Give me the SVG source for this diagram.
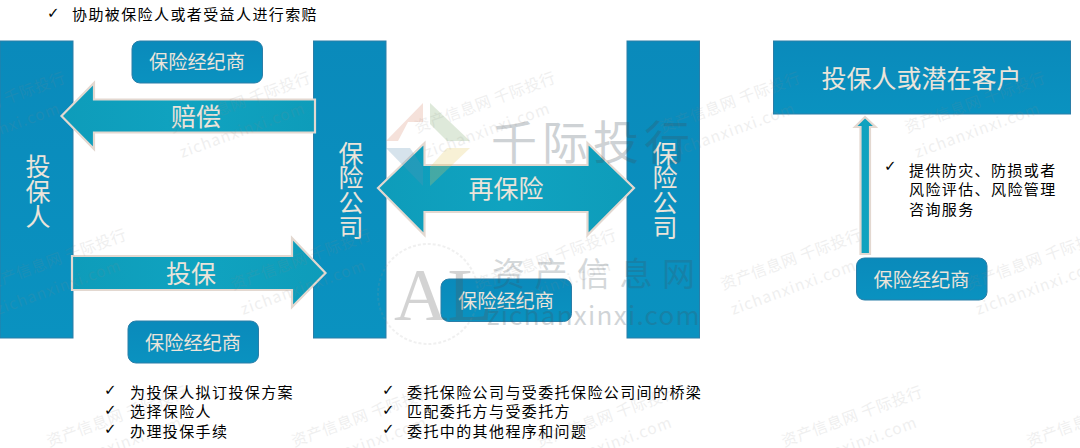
<svg xmlns="http://www.w3.org/2000/svg" xmlns:xlink="http://www.w3.org/1999/xlink" width="1080" height="448" viewBox="0 0 1080 448">
<style>
text{font-family:"Noto Sans CJK SC","Noto Sans",sans-serif}
.box{fill:url(#bar);stroke:#2a7ea8;stroke-width:1}
.arr{fill:url(#flow);stroke:#e3d8d0;stroke-width:2.2;stroke-linejoin:miter}
.lb{fill:#ebe4da;font-size:19.2px;text-anchor:middle;dominant-baseline:central}
.lg{fill:#ebe4da;font-size:25px;text-anchor:middle;dominant-baseline:central}
.t{fill:#000;font-size:15px;letter-spacing:1.4px;dominant-baseline:central}
.c{fill:#000;font-size:15px;font-family:"DejaVu Sans",sans-serif;dominant-baseline:central}
.wm{fill:#8a8a8a;opacity:.13;font-size:15.5px}
</style>
<defs>
<linearGradient id="bar" x1="0" y1="0" x2="0" y2="1"><stop offset="0" stop-color="#0a8abb"/><stop offset="1" stop-color="#0a92c0"/></linearGradient>
<linearGradient id="flow" x1="0" y1="0" x2="1" y2="0"><stop offset="0" stop-color="#0e9cba"/><stop offset=".5" stop-color="#10a3c0"/><stop offset="1" stop-color="#0e9cba"/></linearGradient>
<g id="wm"><text class="wm" transform="rotate(-20)" letter-spacing=".6">资产信息网 千际投行</text><text class="wm" transform="translate(10,25) rotate(-20)" letter-spacing="1.1">zichanxinxi.com</text></g>
</defs>
<rect width="1080" height="448" fill="#fff"/>

<g id="node-policyholder"><rect class="box" x="0" y="41" width="73" height="297"/>
<text class="lg" x="38" y="165">投</text><text class="lg" x="38" y="190">保</text><text class="lg" x="38" y="215">人</text></g>
<g id="node-insurer"><rect class="box" x="313.5" y="41" width="72.5" height="297"/>
<text class="lg" x="351" y="152">保</text><text class="lg" x="351" y="176">险</text><text class="lg" x="351" y="201">公</text><text class="lg" x="351" y="226">司</text></g>
<g id="node-reinsurer"><rect class="box" x="627" y="41" width="72.5" height="297"/>
<text class="lg" x="665" y="152">保</text><text class="lg" x="665" y="176">险</text><text class="lg" x="665" y="201">公</text><text class="lg" x="665" y="226">司</text></g>
<g id="node-client"><rect class="box" x="773.5" y="41" width="297" height="73"/><text class="lg" x="921.5" y="76.5">投保人或潜在客户</text></g>

<g id="node-broker-top"><rect class="box" x="132" y="41" width="130.5" height="42" rx="8"/><text class="lb" x="197" y="60.5">保险经纪商</text></g>
<g id="node-broker-bottom"><rect class="box" x="128" y="321" width="130.5" height="42" rx="8"/><text class="lb" x="193" y="341.5">保险经纪商</text></g>
<g id="node-broker-middle"><rect class="box" x="441" y="279" width="130.5" height="42.5" rx="8"/><text class="lb" x="506" y="300">保险经纪商</text></g>
<g id="node-broker-right"><rect class="box" x="856.5" y="258" width="130.5" height="42" rx="8"/><text class="lb" x="921.5" y="278.5">保险经纪商</text></g>

<g id="connectors">
<path id="arrow-indemnity" class="arr" d="M315 99.5H94V83L61.5 116L94 149V132.5H315Z"/>
<path id="arrow-insure" class="arr" d="M72 256H292V238L325.5 273L292 307V290H72Z"/>
<path id="arrow-reinsure" class="arr" d="M378 188L424.5 143V165H587.5V143L634 188L587.5 235V212H424.5V235Z"/>
<path id="arrow-service" class="arr" d="M865 117L875.5 127H870V254H860.5V127H855Z"/>
</g>

<g id="flow-labels">
<text class="lg" x="196" y="115">赔偿</text>
<text class="lg" x="191" y="271.5">投保</text>
<text class="lg" x="506" y="187">再保险</text>
</g>

<g id="notes">
<text class="c" x="47" y="12.5">✓</text><text class="t" x="72" y="13.5">协助被保险人或者受益人进行索赔</text>
<text class="c" x="104" y="390">✓</text><text class="t" x="130" y="391">为投保人拟订投保方案</text>
<text class="c" x="104" y="409.5">✓</text><text class="t" x="130" y="410.5">选择保险人</text>
<text class="c" x="104" y="428.5">✓</text><text class="t" x="130" y="430">办理投保手续</text>
<text class="c" x="382" y="390">✓</text><text class="t" x="407" y="391">委托保险公司与受委托保险公司间的桥梁</text>
<text class="c" x="382" y="409.5">✓</text><text class="t" x="407" y="410.5">匹配委托方与受委托方</text>
<text class="c" x="382" y="428.5">✓</text><text class="t" x="407" y="430">委托中的其他程序和问题</text>
<text class="c" x="884" y="166">✓</text><text class="t" x="909" y="169">提供防灾、防损或者</text>
<text class="t" x="909" y="188.5">风险评估、风险管理</text>
<text class="t" x="909" y="208">咨询服务</text>
</g>

<g id="watermark" pointer-events="none">
<use xlink:href="#wm" href="#wm" x="-73" y="133"/><use xlink:href="#wm" href="#wm" x="172" y="133"/><use xlink:href="#wm" href="#wm" x="417" y="133"/><use xlink:href="#wm" href="#wm" x="662" y="133"/><use xlink:href="#wm" href="#wm" x="907" y="133"/>
<use xlink:href="#wm" href="#wm" x="-12" y="290"/><use xlink:href="#wm" href="#wm" x="233" y="290"/><use xlink:href="#wm" href="#wm" x="478" y="290"/><use xlink:href="#wm" href="#wm" x="723" y="290"/><use xlink:href="#wm" href="#wm" x="968" y="290"/>
<use xlink:href="#wm" href="#wm" x="49" y="447"/><use xlink:href="#wm" href="#wm" x="294" y="447"/><use xlink:href="#wm" href="#wm" x="539" y="447"/><use xlink:href="#wm" href="#wm" x="784" y="447"/><use xlink:href="#wm" href="#wm" x="1029" y="447"/>
<g opacity=".25">
<path fill="#d98a70" d="M423 103V122H408L398 141H386Z"/>
<path fill="#7faa70" d="M430 103L470 141H447L430 124Z"/>
<path fill="#5f93b5" d="M386 148L423 186V167L410 148Z"/>
<path fill="#e6c860" d="M470 148L430 186V167L447 148Z"/>
</g>
<text x="491" y="159" font-size="46" letter-spacing="5" fill="#40505a" opacity=".25">千际投行</text>
<text x="492" y="286" font-size="33" letter-spacing="9.5" fill="#40505a" opacity=".22">资产信息网</text>
<text x="487" y="325" font-size="26" letter-spacing="1.3" fill="#40505a" opacity=".24">zichanxinxi.com</text>
<circle cx="428" cy="294" r="50" fill="none" stroke="#999" stroke-width="2" stroke-dasharray="3 2" opacity=".15"/>
<text x="394" y="320" font-size="74" fill="#555" opacity=".25" style="font-family:'Liberation Serif',serif">AL</text>
</g>
</svg>
